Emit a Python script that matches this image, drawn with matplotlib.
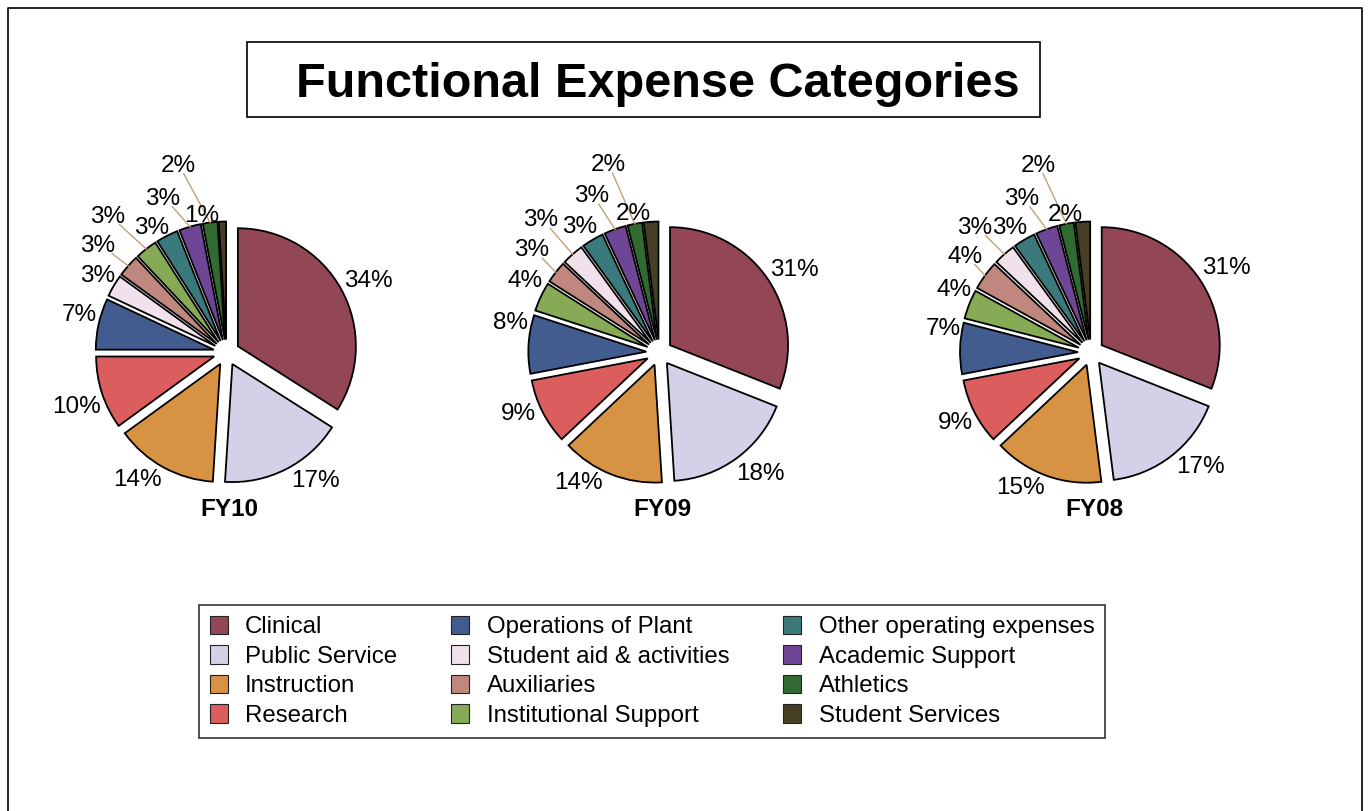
import matplotlib
matplotlib.use('Agg')
import matplotlib.pyplot as plt
from matplotlib.patches import Patch, Rectangle
from matplotlib.lines import Line2D
import numpy as np

plt.rcParams['font.family'] = ['Liberation Sans', 'DejaVu Sans']

# ---------------- data ----------------
categories = ["Clinical", "Public Service", "Instruction", "Research",
              "Operations of Plant", "Student aid & activities", "Auxiliaries",
              "Institutional Support", "Other operating expenses",
              "Academic Support", "Athletics", "Student Services"]
colors = ["#934655", "#D3D1E7", "#D79243", "#DB5D5D", "#425C8F", "#F0E1EA",
          "#C0877F", "#86AA55", "#3A7A7C", "#6F4696", "#316B32", "#473F24"]

years = ["FY10", "FY09", "FY08"]
fy10 = [34, 17, 14, 10, 7, 3, 3, 3, 3, 3, 2, 1]
fy09 = [31, 18, 14, 9, 8, 3, 3, 4, 3, 3, 2, 2]
fy08 = [31, 17, 15, 9, 7, 3, 4, 4, 3, 3, 2, 2]
# order of slices (clockwise from 12 o'clock), as indices into categories
order_fy10 = [0, 1, 2, 3, 4, 5, 6, 7, 8, 9, 10, 11]
order_fy09 = [0, 1, 2, 3, 4, 7, 6, 5, 8, 9, 10, 11]
order_fy08 = [0, 1, 2, 3, 4, 7, 6, 5, 8, 9, 10, 11]

# ---------------- styling / layout ----------------
W, H = 1370, 811
R_PX = 118.0                 # pie radius in pixels
CENTERS_X = [226.5, 659.3, 1091.0]
CENTER_Y = 352.5
EXPLODE = 0.11
HALF = 225.0                 # half size of each pie axes in px

# label positions (radius units, relative to pie centre), in slice order
lab_pos = [
    [(1.20, 0.63), (0.754, -1.068), (-0.754, -1.055), (-1.267, -0.436), (-1.246, 0.343),
     (-1.089, 0.674), (-1.089, 0.928), (-1.004, 1.174), (-0.631, 1.081), (-0.538, 1.326),
     (-0.411, 1.606), (-0.208, 1.182)],
    [(1.142, 0.719), (0.853, -1.003), (-0.689, -1.087), (-1.197, -0.502), (-1.257, 0.269),
     (-1.138, 0.632), (-1.079, 0.888), (-1.003, 1.142), (-0.672, 1.083), (-0.570, 1.346),
     (-0.435, 1.608), (-0.223, 1.193)],
    [(1.144, 0.742), (0.924, -0.945), (-0.602, -1.123), (-1.153, -0.572), (-1.254, 0.225),
     (-1.161, 0.555), (-1.068, 0.835), (-0.983, 1.081), (-0.686, 1.081), (-0.585, 1.326),
     (-0.449, 1.606), (-0.220, 1.191)],
]
leaders = [0, 0, 0, 0, 0, 0, 1, 1, 0, 1, 1, 0]
leader_color = "#BFA27A"
LABEL_FS = 17.5

fig = plt.figure(figsize=(W / 100, H / 100), dpi=100)
fig.patch.set_facecolor('white')

# outer frame
frame = fig.add_axes([0, 0, 1, 1])
frame.set_xlim(0, W)
frame.set_ylim(H, 0)
frame.axis('off')
frame.add_line(Line2D([8, 8, 1362, 1362], [830, 8, 8, 830], color='black', lw=1.2))

# title box
frame.add_patch(Rectangle((247, 42), 793, 75, fill=False, edgecolor='black', lw=1.2))
frame.text(658, 97, "Functional Expense Categories", fontsize=35, fontweight='bold',
           ha='center', va='baseline')

all_values = [fy10, fy09, fy08]
all_orders = [order_fy10, order_fy09, order_fy08]

cap_offset = (LABEL_FS * 100 / 72 * 0.716 / 2) / R_PX

for i, (yr, vals, order) in enumerate(zip(years, all_values, all_orders)):
    cx = CENTERS_X[i]
    ax = fig.add_axes([(cx - HALF) / W, (H - CENTER_Y - HALF) / H, 2 * HALF / W, 2 * HALF / H])
    lim = HALF / R_PX
    ax.axis('off')
    ax.patch.set_alpha(0)
    sl_vals = [vals[k] for k in order]
    sl_cols = [colors[k] for k in order]
    wedges, _ = ax.pie(sl_vals, colors=sl_cols, startangle=90, counterclock=False,
                       explode=[EXPLODE] * len(sl_vals), radius=1.0,
                       wedgeprops=dict(edgecolor='black', linewidth=1.3))
    ax.set_xlim(-lim, lim)
    ax.set_ylim(-lim, lim)
    total = float(sum(sl_vals))
    cum = 0.0
    for j, v in enumerate(sl_vals):
        mid = np.deg2rad(90 - (cum + v / 2) / total * 360)
        cum += v
        lx, ly = lab_pos[i][j]
        ax.text(lx, ly - cap_offset, f"{v}%", fontsize=LABEL_FS, ha='center', va='baseline')
        if leaders[j]:
            tx, ty = (1 + EXPLODE) * np.cos(mid), (1 + EXPLODE) * np.sin(mid)
            dx, dy = tx - lx, ty - ly
            t = min(0.16 / max(abs(dx), 1e-6), 0.09 / max(abs(dy), 1e-6))
            sx, sy = lx + t * dx, ly + t * dy
            ax.plot([sx, tx], [sy, ty], color=leader_color, lw=1.0)
    frame.text(cx + 3, 516, yr, fontsize=17.5, fontweight='bold', ha='center', va='baseline')

handles = [Patch(facecolor=c, edgecolor='#222222', linewidth=0.8, label=l)
           for c, l in zip(colors, categories)]
leg = fig.legend(handles=handles, ncol=3, loc='upper left',
                 bbox_to_anchor=(199 / W, 1 - 605 / H), borderaxespad=0,
                 fontsize=17.3, frameon=True, fancybox=False, edgecolor='black',
                 handlelength=0.75, handleheight=0.8, handletextpad=0.72,
                 columnspacing=2.25, labelspacing=0.29, borderpad=0.45)
leg.get_frame().set_linewidth(1.2)

fig.savefig('out.png', dpi=100, facecolor='white')
